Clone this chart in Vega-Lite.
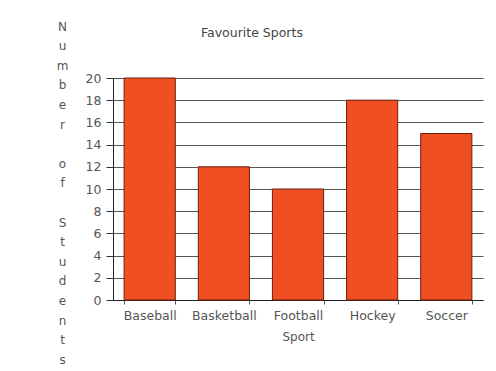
{
  "$schema": "https://vega.github.io/schema/vega-lite/v6.json",
  "width": 370,
  "height": 222,
  "autosize": {"type": "none"},
  "padding": {"left": 113, "top": 78, "right": 13, "bottom": 71},
  "background": "white",
  "title": {
    "text": "Favourite Sports",
    "anchor": "start",
    "frame": "group",
    "dx": 88,
    "offset": -19,
    "font": "DejaVu Sans",
    "fontSize": 12.5,
    "fontWeight": "normal",
    "color": "#444"
  },
  "data": {
    "values": [
      {"Sport": "Baseball", "Students": 20},
      {"Sport": "Basketball", "Students": 12},
      {"Sport": "Football", "Students": 10},
      {"Sport": "Hockey", "Students": 18},
      {"Sport": "Soccer", "Students": 15}
    ]
  },
  "config": {
    "view": {"stroke": null},
    "axis": {"labelFont": "DejaVu Sans", "titleFont": "DejaVu Sans", "labelFontSize": 12.5, "titleFontSize": 12, "labelColor": "#555", "titleColor": "#555", "titleFontWeight": "normal"}
  },
  "mark": {"type": "bar", "color": "#F04E23", "stroke": "#6a200c", "strokeWidth": 1},
  "encoding": {
    "x": {
      "field": "Sport",
      "type": "nominal",
      "sort": null,
      "scale": {"paddingInner": 0.31, "paddingOuter": 0.15},
      "axis": {
        "title": "Sport",
        "labelAngle": 0,
        "labelOverlap": false,
        "tickBand": "extent",
        "tickSize": 4,
        "tickColor": "#555",
        "domainColor": "#222",
        "labelPadding": 5,
        "titlePadding": 10
      }
    },
    "y": {
      "field": "Students",
      "type": "quantitative",
      "scale": {"domain": [0, 20]},
      "axis": {
        "values": [0, 2, 4, 6, 8, 10, 12, 14, 16, 18, 20],
        "grid": true,
        "gridColor": "#555",
        "gridWidth": 1,
        "gridOpacity": 1,
        "tickSize": 7,
        "tickColor": "#333",
        "domainColor": "#222",
        "labelPadding": 5,
        "title": ["N", "u", "m", "b", "e", "r", "\u2800", "o", "f", "\u2800", "S", "t", "u", "d", "e", "n", "t", "s"],
        "titleAngle": 0,
        "titleAlign": "center",
        "titleBaseline": "top",
        "titleLineHeight": 19.6,
        "titleX": -51,
        "titleY": -57
      }
    }
  }
}
